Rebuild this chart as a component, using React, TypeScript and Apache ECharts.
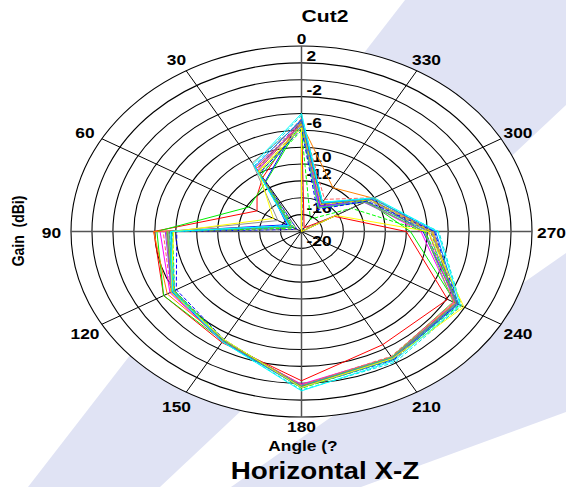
import React, { useEffect, useRef } from "react";
import * as echarts from "echarts";

// ---- scale ----
const R_MIN = -20;
const R_MAX = 2;
const ANGLES = [0, 30, 60, 90, 120, 150, 180, 210, 240, 270, 300, 330];
const RED_ANGLES = [0, 30, 45, 60, 90, 120, 150, 180, 210, 240, 270, 300, 330];
const RING_VALUES = [-18, -16, -14, -12, -10, -8, -6, -4, -2, 0, 2];
const RADIAL_TICK_LABELS = [2, -2, -6, -10, -12, -16, -20];
const ANGLE_TICK_LABELS = ["0", "30", "60", "90", "120", "150", "180", "210", "240", "270", "300", "330"];

// ---- gain values (dBi) per trace, at ANGLES (RED at RED_ANGLES) ----
const RED = [-6.8, -12.6, -14.0, -15.1, -5.9, -4.8, -4.8, -2.3, -4.5, -3.9, -10.0, -16.4, -19.5];
const GREEN = [-7.0, -13.2, -14.2, -6.2, -4.8, -5.0, -1.8, -2.8, -3.0, -9.6, -12.8, -16.0];
const BLUE = [-6.6, -13.1, -18.4, -7.2, -5.6, -5.0, -1.7, -2.6, -2.8, -8.4, -12.3, -16.5];
const MAGENTA = [-6.9, -11.6, -18.9, -6.5, -5.5, -4.9, -1.9, -2.8, -3.2, -8.6, -13.0, -16.6];
const ORANGE = [-7.2, -11.4, -18.7, -5.9, -5.2, -5.1, -1.8, -2.7, -3.1, -7.5, -12.1, -14.0];
const PURPLE = [-7.4, -11.2, -18.9, -7.0, -5.7, -5.0, -1.8, -2.7, -3.0, -8.2, -13.1, -16.4];
const GRAY = [-7.0, -10.6, -17.4, -7.3, -5.9, -5.1, -1.7, -2.6, -2.9, -7.6, -12.6, -16.0];
const BROWN = [-7.1, -11.7, -18.8, -7.1, -5.8, -5.0, -1.6, -2.7, -3.0, -7.4, -12.4, -16.2];
const LIME = [-7.6, -12.0, -18.9, -7.2, -5.9, -5.1, -1.7, -2.8, -3.3, -8.3, -13.0, -16.8];
const TEAL = [-7.5, -12.3, -19.0, -7.4, -5.8, -5.1, -1.7, -2.7, -2.9, -7.9, -12.9, -16.7];
const SALMON_DASH = [-6.6, -11.3, -18.7, -6.8, -5.6, -5.0, -1.8, -2.9, -3.2, -7.9, -12.0, -15.6];
const BLUE_DASH = [-7.8, -12.0, -19.5, -8.1, -6.2, -5.2, -1.5, -2.4, -2.8, -7.3, -12.8, -17.0];
const GREEN_DASH = [-8.0, -12.2, -19.2, -7.7, -6.0, -5.2, -1.4, -2.5, -2.6, -8.2, -14.5, -18.3];
const GRAY_DASH = [-6.8, -11.5, -19.5, -7.4, -6.0, -5.0, -1.6, -2.6, -2.8, -7.7, -12.9, -19.8];
const OLIVE_DASH = [-7.3, -11.9, -18.8, -7.6, -5.9, -4.9, -1.5, -2.5, -2.3, -7.6, -12.5, -16.3];
const LIGHT_BLUE = [-6.7, -11.1, -18.7, -7.6, -5.7, -4.9, -1.5, -2.5, -2.7, -7.2, -12.2, -16.1];
const CYAN_DASH = [-6.2, -11.0, -18.6, -7.6, -6.0, -4.9, -1.2, -2.1, -2.4, -6.9, -12.2, -16.0];
const YELLOW = [-7.7, -11.8, -16.9, -7.8, -5.6, -5.2, -1.5, -2.6, -2.1, -7.9, -16.2, -20.0];
const CYAN = [-6.0, -10.8, -18.6, -7.5, -5.8, -4.9, -1.1, -2.3, -2.5, -7.0, -12.0, -16.0];

const TRACES = [
  { name: "t1", values: RED, angles: RED_ANGLES, color: "#ff0000", dash: "solid" },
  { name: "t2", values: GREEN, angles: ANGLES, color: "#00ee00", dash: "solid" },
  { name: "t3", values: BLUE, angles: ANGLES, color: "#0000ff", dash: "solid" },
  { name: "t4", values: MAGENTA, angles: ANGLES, color: "#ff00ff", dash: "solid" },
  { name: "t5", values: ORANGE, angles: ANGLES, color: "#ff8000", dash: "solid" },
  { name: "t6", values: PURPLE, angles: ANGLES, color: "#9933ff", dash: "solid" },
  { name: "t7", values: GRAY, angles: ANGLES, color: "#909090", dash: "solid" },
  { name: "t8", values: BROWN, angles: ANGLES, color: "#b08050", dash: "solid" },
  { name: "t9", values: LIME, angles: ANGLES, color: "#66dd33", dash: "solid" },
  { name: "t10", values: TEAL, angles: ANGLES, color: "#20b0b0", dash: "solid" },
  { name: "t11", values: SALMON_DASH, angles: ANGLES, color: "#ff6060", dash: "dashed" },
  { name: "t12", values: BLUE_DASH, angles: ANGLES, color: "#0000ff", dash: "dashed" },
  { name: "t13", values: GREEN_DASH, angles: ANGLES, color: "#00ff00", dash: "dashed" },
  { name: "t14", values: GRAY_DASH, angles: ANGLES, color: "#707070", dash: "dashed" },
  { name: "t15", values: OLIVE_DASH, angles: ANGLES, color: "#d0d000", dash: "dashed" },
  { name: "t16", values: LIGHT_BLUE, angles: ANGLES, color: "#0080ff", dash: "solid" },
  { name: "t17", values: CYAN_DASH, angles: ANGLES, color: "#00e0e0", dash: "dashed" },
  { name: "t18", values: YELLOW, angles: ANGLES, color: "#ffff00", dash: "solid" },
  { name: "t19", values: CYAN, angles: ANGLES, color: "#00ffff", dash: "solid" },
];

const FONT = '"Liberation Sans", Arial, sans-serif';
const STRETCH = 1.24;
const WATERMARK = "#e0e3f4";

function frac(v: number) {
  return (v - R_MIN) / (R_MAX - R_MIN);
}
function toXY(angleDeg: number, v: number): [number, number] {
  const r = frac(v);
  const a = (angleDeg * Math.PI) / 180;
  return [-r * Math.sin(a), r * Math.cos(a)];
}

function titleText(text: string, x: number, y: number, size: number, extra: any = {}) {
  return {
    type: "text",
    z: 10,
    x,
    y,
    scaleX: STRETCH,
    ...extra,
    style: {
      text,
      fill: "#000",
      font: `bold ${size}px ${FONT}`,
      align: "center",
      verticalAlign: "middle",
      textAlign: "center",
      textVerticalAlign: "middle",
    },
  };
}

export default function App() {
  const ref = useRef<HTMLDivElement>(null);
  useEffect(() => {
    if (!ref.current) return;
    const chart = echarts.init(ref.current, null, { renderer: "svg" });

    const traceSeries = TRACES.map((t) => {
      const pts = t.angles.map((a, i) => toXY(a, t.values[i]));
      pts.push(pts[0]);
      return {
        type: "line",
        name: t.name,
        data: pts,
        symbol: "none",
        silent: true,
        z: 5,
        lineStyle: { color: t.color, width: 1, type: t.dash },
      };
    });

    const option: any = {
      animation: false,
      backgroundColor: "#ffffff",
      grid: { left: 71, top: 46, width: 461, height: 371 },
      xAxis: { type: "value", min: -1, max: 1, show: false },
      yAxis: { type: "value", min: -1, max: 1, show: false },
      graphic: [
        {
          type: "polygon",
          z: 0,
          silent: true,
          shape: { points: [[405, 0], [566, 0], [566, 105], [160, 487], [28, 487]] },
          style: { fill: WATERMARK },
        },
        {
          type: "polygon",
          z: 0,
          silent: true,
          shape: { points: [[566, 253], [566, 412], [361, 487], [231, 487]] },
          style: { fill: WATERMARK },
        },
        titleText("Cut2", 325, 16, 17),
        titleText("Gain  (dBi)", 18, 231, 14, { rotation: Math.PI / 2, scaleX: 1, scaleY: STRETCH }),
        titleText("Angle (?", 303, 446, 14),
        titleText("Horizontal X-Z", 325, 471, 24, { scaleX: 1.16 }),
      ],
      series: [
        // plot area fill
        {
          type: "custom",
          z: 1,
          silent: true,
          clip: false,
          data: [[0, 0, R_MAX]],
          encode: { x: 0, y: 1 },
          renderItem: (params: any, api: any) => {
            const c = api.coord([0, 0]);
            const e = api.coord([1, 1]);
            return {
              type: "ellipse",
              shape: { cx: c[0], cy: c[1], rx: e[0] - c[0], ry: c[1] - e[1] },
              style: { fill: "#ffffff", stroke: "none" },
            };
          },
        },
        // rings
        {
          type: "custom",
          z: 2,
          silent: true,
          clip: false,
          data: RING_VALUES.map((v) => [0, 0, v]),
          encode: { x: 0, y: 1 },
          renderItem: (params: any, api: any) => {
            const r = frac(api.value(2));
            const c = api.coord([0, 0]);
            const e = api.coord([r, r]);
            return {
              type: "ellipse",
              shape: { cx: c[0], cy: c[1], rx: e[0] - c[0], ry: c[1] - e[1] },
              style: { fill: "none", stroke: "#000000", lineWidth: 1.1 },
            };
          },
        },
        // spokes
        {
          type: "custom",
          z: 2,
          silent: true,
          clip: false,
          data: ANGLES.map((a) => [0, 0, a]),
          encode: { x: 0, y: 1 },
          renderItem: (params: any, api: any) => {
            const a = api.value(2);
            const c = api.coord([0, 0]);
            const o = api.coord(toXY(a, R_MAX));
            const main = a % 90 === 0;
            return {
              type: "line",
              shape: { x1: c[0], y1: c[1], x2: o[0], y2: o[1] },
              style: { stroke: main ? "#555555" : "#000000", lineWidth: main ? 1.5 : 1 },
            };
          },
        },
        // radial tick labels
        {
          type: "custom",
          z: 3,
          silent: true,
          clip: false,
          data: RADIAL_TICK_LABELS.map((v) => [0, 0, v]),
          encode: { x: 0, y: 1 },
          renderItem: (params: any, api: any) => {
            const v = api.value(2);
            const p = api.coord([0, frac(v)]);
            return {
              type: "text",
              x: p[0] + 5,
              y: p[1] + 10,
              scaleX: STRETCH,
              style: {
                text: String(v),
                fill: "#000",
                font: `bold 14px ${FONT}`,
                align: "left",
                verticalAlign: "middle",
              },
            };
          },
        },
        // angle labels
        {
          type: "custom",
          z: 4,
          silent: true,
          clip: false,
          data: ANGLES.map((a) => [0, 0, a]),
          encode: { x: 0, y: 1 },
          renderItem: (params: any, api: any) => {
            const a = api.value(2);
            const rad = (a * Math.PI) / 180;
            const s = Math.sin(rad);
            const c = Math.cos(rad);
            const o = api.coord(toXY(a, R_MAX));
            const dx = -s * 19.5;
            const dy = -c * (Math.abs(s) > 0.1 ? 15 : 8.5) + 2;
            return {
              type: "text",
              x: o[0] + dx,
              y: o[1] + dy,
              scaleX: STRETCH,
              style: {
                text: ANGLE_TICK_LABELS[params.dataIndex],
                fill: "#000",
                font: `bold 14px ${FONT}`,
                align: "center",
                verticalAlign: "middle",
              },
            };
          },
        },
        ...traceSeries,
      ],
    };

    chart.setOption(option);
    return () => {
      chart.dispose();
    };
  }, []);

  return (
    <div
      ref={ref}
      style={{ position: "absolute", left: 0, top: 0, width: 566, height: 487 }}
    />
  );
}
